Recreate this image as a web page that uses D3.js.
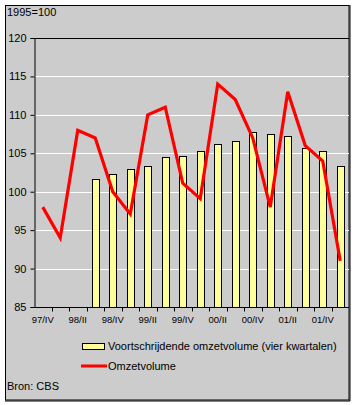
<!DOCTYPE html>
<html><head><meta charset="utf-8">
<script src="https://cdn.jsdelivr.net/npm/d3@7"></script>
<style>html,body{margin:0;padding:0;background:#fff}svg{display:block}text{font-family:Arial,"Liberation Sans",sans-serif}</style>
</head><body><svg id="c" width="356" height="405"></svg>
<script>
const categories = ["97/IV","98/I","98/II","98/III","98/IV","99/I","99/II","99/III","99/IV","00/I","00/II","00/III","00/IV","01/I","01/II","01/III","01/IV","02/I"];
const tickLabels = ["97/IV","98/II","98/IV","99/II","99/IV","00/II","00/IV","01/II","01/IV"];
const barValues = [null,null,null,101.7,102.3,103.0,103.4,104.5,104.7,105.3,106.2,106.6,107.8,107.5,107.3,105.7,105.3,103.4];
const lineValues = [98,94,108,107,100,97.1,110,111,101.1,99.1,114,112,107,98,113,106,104,91];
const yTicks = [85,90,95,100,105,110,115,120];
const barName = "Voortschrijdende omzetvolume (vier kwartalen)";
const lineName = "Omzetvolume";
const unitLabel = "1995=100";
const source = "Bron: CBS";

const svg = d3.select("#c");
const L = 34, R = 349, T = 38, B = 307;
svg.append("rect").attr("x",5.5).attr("y",5.5).attr("width",343.5).attr("height",394.5)
  .attr("fill","#cccccc").attr("stroke","#000").attr("stroke-width",1);
// shadow-like thicker right/bottom edge
svg.append("path").attr("d","M350,5V401H5").attr("fill","none").attr("stroke","#000").attr("stroke-width",1);

const x = d3.scaleBand().domain(categories).range([L,R]).padding(0);
const y = d3.scaleLinear().domain([85,120]).range([B,T]);
const bw = x.bandwidth();

// gridlines
svg.append("g").attr("transform",`translate(${L},0)`)
  .call(d3.axisLeft(y).tickValues(yTicks.filter(v=>v>85&&v<120)).tickSize(-(R-L)).tickFormat(""))
  .call(g=>g.select(".domain").remove())
  .call(g=>g.selectAll("line").attr("stroke","#fff").attr("stroke-width",1).attr("shape-rendering","crispEdges"));

// top border of plot
svg.append("line").attr("x1",L).attr("x2",R).attr("y1",Math.round(y(120))+0.5).attr("y2",Math.round(y(120))+0.5).attr("stroke","#000");

// bars
svg.append("g").selectAll("rect").data(categories.map((c,i)=>({c,v:barValues[i]})).filter(d=>d.v!=null))
  .join("rect")
  .attr("x",d=>Math.round(x(d.c)+bw*0.3)+0.5)
  .attr("width",Math.round(bw*0.42))
  .attr("y",d=>Math.round(y(d.v))+0.5)
  .attr("height",d=>B-Math.round(y(d.v)))
  .attr("fill","#ffff99").attr("stroke","#000").attr("stroke-width",1);

// y axis
svg.append("g").attr("transform",`translate(${L+0.5},0)`)
  .call(d3.axisLeft(y).tickValues(yTicks).tickSize(4).tickPadding(4).tickFormat(d3.format("d")))
  .call(g=>g.select(".domain").attr("stroke","#000"))
  .call(g=>g.selectAll(".tick line").attr("stroke","#000"))
  .call(g=>g.selectAll("text").attr("font-size","11px").attr("fill","#000").attr("font-family","Arial, 'Liberation Sans', sans-serif"));

// x axis
const xg = svg.append("g").attr("transform",`translate(0,${B+0.5})`)
  .call(d3.axisBottom(x).tickValues(tickLabels).tickSize(0).tickPadding(9))
  .call(g=>g.select(".domain").attr("d",`M${L},0H${R}`).attr("stroke","#000"))
  .call(g=>g.selectAll("text").attr("font-size","9.5px").attr("fill","#000").attr("font-family","Arial, 'Liberation Sans', sans-serif"));
xg.append("g").selectAll("line").data(categories.slice(1))
  .join("line").attr("x1",d=>Math.round(x(d))+0.5).attr("x2",d=>Math.round(x(d))+0.5)
  .attr("y1",0).attr("y2",4).attr("stroke","#000");

// line
svg.append("path").datum(categories.map((c,i)=>[x(c)+bw/2,y(lineValues[i])]))
  .attr("d",d3.line()).attr("fill","none").attr("stroke","#ff0000").attr("stroke-width",3.2).attr("stroke-linejoin","miter");

// texts
svg.append("text").attr("x",7).attr("y",16).attr("font-size","11px").text(unitLabel);
svg.append("text").attr("x",7).attr("y",390).attr("font-size","11px").text(source);

// legend
svg.append("rect").attr("x",82.5).attr("y",343.5).attr("width",22).attr("height",6).attr("fill","#ffff99").attr("stroke","#000");
svg.append("text").attr("x",108).attr("y",350).attr("font-size","11px").text(barName);
svg.append("line").attr("x1",81).attr("x2",107).attr("y1",366).attr("y2",366).attr("stroke","#ff0000").attr("stroke-width",3);
svg.append("text").attr("x",108).attr("y",370).attr("font-size","11px").text(lineName);
</script></body></html>
